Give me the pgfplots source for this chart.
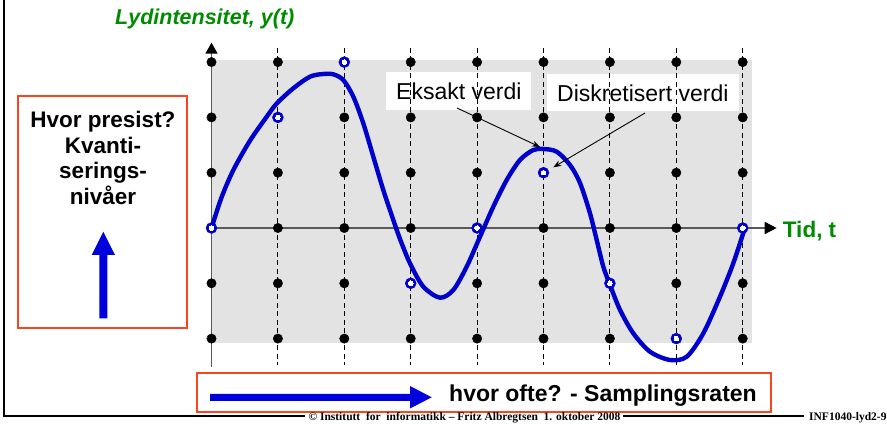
\documentclass[border=0pt]{standalone}
\usepackage{pgfplots}
\pgfplotsset{compat=1.18}
\usetikzlibrary{arrows.meta}
\usepackage{fontspec}
\setmainfont{Liberation Sans}
\newfontfamily\serifb{Liberation Serif}

\definecolor{curveblue}{RGB}{0,0,204}
\definecolor{arrblue}{RGB}{0,0,220}
\definecolor{boxred}{RGB}{250,70,30}
\definecolor{titlegreen}{RGB}{0,140,0}
\definecolor{bggray}{RGB}{227,227,227}

\pgfplotstableread{
x y
0 0
1 2
2 3
3 -1
4 0
5 1
6 -1
7 -2
8 0
}\samples

\begin{document}
\begin{tikzpicture}
\useasboundingbox (0,0) rectangle (887pt,425pt);
\fill[white] (0,0) rectangle (887pt,425pt);
\begin{scope}[shift={(0pt,425pt)},x=1pt,y=-1pt]
 \fill[bggray] (211.5,60) rectangle (752,343);
 \fill[white] (386,72.3) rectangle (530.7,110);
 \fill[white] (546.7,74) rectangle (739.3,110.7);
 \node[anchor=base west, inner sep=0, font=\fontsize{23}{27}\selectfont] at (396,99.5) {Eksakt verdi};
 \node[anchor=base west, inner sep=0, font=\fontsize{23}{27}\selectfont] at (557,101.5) {Diskretisert verdi};
\end{scope}

\begin{axis}[at={(0,0)}, anchor=south west, width=887pt, height=425pt, scale only axis,
  xmin=-3.18524, xmax=10.17319, ymin=-3.56239, ymax=4.12297, hide axis, clip=false]
 \pgfplotsinvokeforeach{1,...,8}{\draw[black, line width=1.1pt, dash pattern=on 5pt off 3.5pt] (axis cs:#1,3.255) -- (axis cs:#1,-2.48);}
 \draw[black!65, line width=1.6pt, -{Triangle[length=11pt,width=12pt,color=black]}] (axis cs:0,-2.51) -- (axis cs:0,3.351);
 \draw[black!65, line width=1.5pt, -{Triangle[length=12pt,width=12pt,color=black]}] (axis cs:0,0) -- (axis cs:8.512,0);
 % grid points (quantisation levels x sampling instants)
 \addplot[only marks, mark=*, mark size=4.7pt, black] coordinates {
  (0,-2) (0,-1) (0,0) (0,1) (0,2) (0,3)
  (1,-2) (1,-1) (1,0) (1,1) (1,2) (1,3)
  (2,-2) (2,-1) (2,0) (2,1) (2,2) (2,3)
  (3,-2) (3,-1) (3,0) (3,1) (3,2) (3,3)
  (4,-2) (4,-1) (4,0) (4,1) (4,2) (4,3)
  (5,-2) (5,-1) (5,0) (5,1) (5,2) (5,3)
  (6,-2) (6,-1) (6,0) (6,1) (6,2) (6,3)
  (7,-2) (7,-1) (7,0) (7,1) (7,2) (7,3)
  (8,-2) (8,-1) (8,0) (8,1) (8,2) (8,3)
 };
 % exact signal
 \addplot[smooth, line width=4.4pt, curveblue] coordinates {
  (0,0) (0.15,0.55) (0.33,1.05) (0.58,1.58) (0.83,2.01) (0.982,2.25)
  (1.232,2.526) (1.483,2.736) (1.684,2.785) (1.834,2.779) (1.985,2.676)
  (2.136,2.374) (2.286,1.893) (2.437,1.289) (2.587,0.687) (2.738,0.145)
  (2.839,-0.2) (2.989,-0.638) (3.190,-1.061) (3.441,-1.260) (3.642,-1.121)
  (3.843,-0.700) (4.044,-0.157) (4.244,0.385) (4.446,0.868) (4.646,1.230)
  (4.846,1.410) (4.997,1.429) (5.199,1.380) (5.399,1.139) (5.550,0.814)
  (5.700,0.266) (5.801,-0.217) (5.901,-0.700) (6.002,-1.031) (6.153,-1.483)
  (6.352,-1.904) (6.604,-2.237) (6.905,-2.387) (7.157,-2.327) (7.407,-1.904)
  (7.658,-1.242) (7.858,-0.638) (8.03,-0.01)
 };
 % discretised samples: blue ring = blue disc + white centre
 \addplot[only marks, mark=*, mark size=5.5pt, curveblue, mark options={fill=curveblue, draw=curveblue}] table[x=x,y=y] {\samples};
 \addplot[only marks, mark=*, mark size=2.3pt, white, mark options={fill=white, draw=white, line width=0pt}] table[x=x,y=y] {\samples};
\end{axis}

\begin{scope}[shift={(0pt,425pt)},x=1pt,y=-1pt]
 \draw[black, line width=0.9pt, -{Stealth[length=8pt,width=6pt]}] (457,108) -- (540,147);
 \draw[black, line width=0.9pt, -{Stealth[length=8pt,width=6pt]}] (645,113) -- (553.3,167.3);
 % frame
 \draw[black, line width=1.7pt] (4,0) -- (4,416) -- (305,416);
 \draw[black, line width=1.7pt] (623,416) -- (804,416);
 % red boxes
 \draw[boxred, line width=2pt] (18,96) rectangle (187,328);
 \draw[boxred, line width=2pt] (196.7,373) rectangle (770.7,411.7);
 % blue arrows
 \fill[arrblue] (99.3,318.3) -- (99.3,255) -- (91.7,255) -- (103.3,231.7) -- (115,255) -- (107.3,255) -- (107.3,318.3) -- cycle;
 \fill[arrblue] (210,393.8) -- (410,393.8) -- (410,386) -- (431.7,397.3) -- (410,408.5) -- (410,400.8) -- (210,400.8) -- cycle;
 % texts
 \node[anchor=base west, inner sep=0, text=titlegreen, font=\fontsize{21.5}{25}\selectfont\bfseries\itshape] at (115,25) {Lydintensitet, y(t)};
 \node[anchor=base west, inner sep=0, text=titlegreen, font=\fontsize{22.5}{26}\selectfont\bfseries] at (782.7,237.3) {Tid, t};
 \node[anchor=base, inner sep=0, font=\fontsize{22.5}{26}\selectfont\bfseries] at (103,127.5) {Hvor presist?};
 \node[anchor=base, inner sep=0, font=\fontsize{22.5}{26}\selectfont\bfseries] at (103,154) {Kvanti-};
 \node[anchor=base, inner sep=0, font=\fontsize{22.5}{26}\selectfont\bfseries] at (103,179) {serings-};
 \node[anchor=base, inner sep=0, font=\fontsize{22.5}{26}\selectfont\bfseries] at (103,205) {nivåer};
 \node[anchor=base west, inner sep=0, font=\fontsize{23}{27}\selectfont\bfseries] at (449,401.7) {hvor ofte? - Samplingsraten};
 \node[anchor=base, inner sep=0, font=\serifb\bfseries\fontsize{11.5}{13}\selectfont] at (464.5,421) {© Institutt\ \ for\ \ informatikk – Fritz Albregtsen\ \ 1. oktober 2008};
 \node[anchor=base west, inner sep=0, font=\serifb\bfseries\fontsize{11.5}{13}\selectfont] at (809,421) {INF1040-lyd2-9};
\end{scope}
\end{tikzpicture}
\end{document}
